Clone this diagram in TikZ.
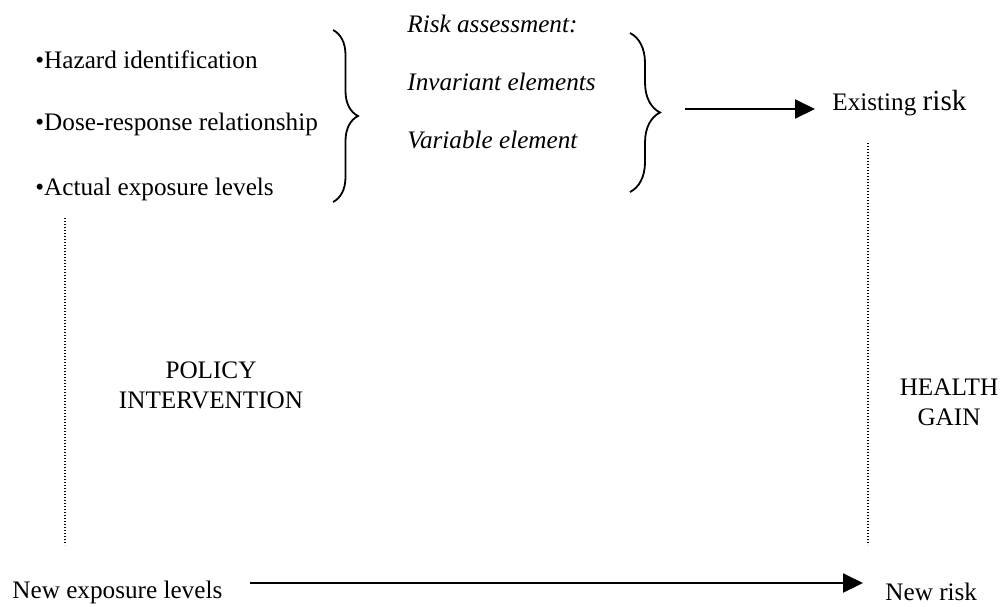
\documentclass[tikz,border=0pt]{standalone}
\usepackage{fontspec}
\setmainfont{Liberation Serif}
\usetikzlibrary{arrows.meta,decorations.pathreplacing}

\begin{document}
\begin{tikzpicture}[x=0.5pt,y=-0.5pt,
    every node/.style={inner sep=0pt,font=\fontsize{12.6}{15}\selectfont},
    lbl/.style={anchor=base west},
    flow/.style={line width=1pt,-{Triangle[length=10pt,width=9.5pt]}},
    curly/.style={line width=0.9pt,decorate,decoration={brace,amplitude=#1}},
    guide/.style={line width=0.7pt,dash pattern=on 0.6pt off 0.9pt}]
\useasboundingbox (0,0) rectangle (1004,606);

\node[lbl] (haz) at (35,68) {\textbullet Hazard identification};
\node[lbl] (dose) at (35,130) {\textbullet Dose-response relationship};
\node[lbl] (act) at (35,195) {\textbullet Actual exposure levels};
\draw[curly=12.5pt] (333,30) -- (333,202);

\node[lbl] (ra) at (407,32) {\itshape Risk assessment:};
\node[lbl] (inv) at (407,90) {\itshape Invariant elements};
\node[lbl] (var) at (407,148) {\itshape Variable element};
\draw[curly=15pt] (630,33) -- (630,192);

\node[lbl] (exist) at (832,110) {Existing {\fontsize{14.6}{18}\selectfont risk}};
\coordinate (rtip) at (685,109);
\draw[flow,shorten >=8.5pt] (rtip) -- (exist.west |- rtip);

% vertical guides
\coordinate (lg) at (65,218);
\coordinate (rg) at (868,143);
\draw[guide] (lg) -- (lg |- 0,545);
\draw[guide] (rg) -- (rg |- 0,545);

\node[align=center] (pol) at (211,385) {POLICY\\INTERVENTION};
\node[align=center] (gain) at (949,402) {HEALTH\\GAIN};

\node[lbl] (newexp) at (12,598) {New exposure levels};
\node[lbl] (newrisk) at (885,600) {New risk};
\coordinate (bot) at (0,583);
\draw[flow,shorten <=13.5pt,shorten >=11pt] (newexp.east |- bot) -- (newrisk.west |- bot);
\end{tikzpicture}
\end{document}
